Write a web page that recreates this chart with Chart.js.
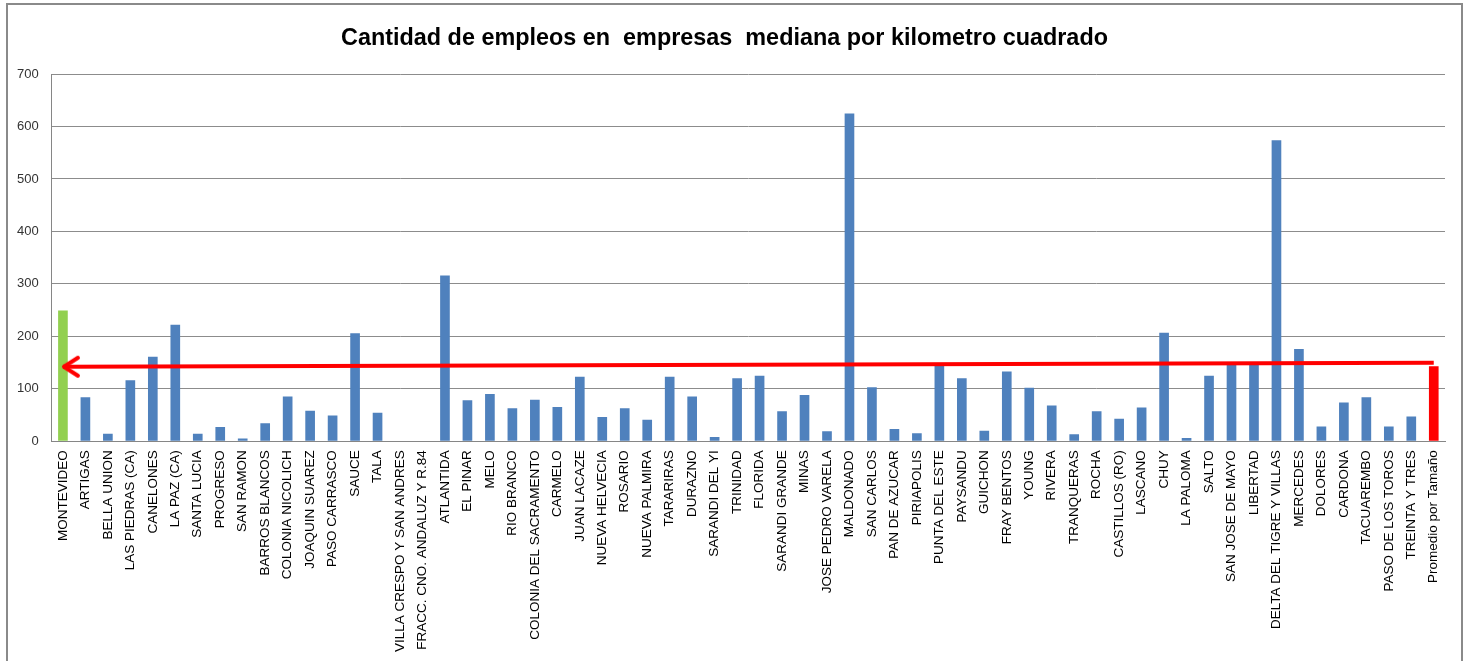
<!DOCTYPE html>
<html>
<head>
<meta charset="utf-8">
<script src="https://cdn.jsdelivr.net/npm/chart.js"></script>
<style>
  body { margin: 0; background: #fff; overflow: hidden; }
  #wrap { position: absolute; left: 0; top: 0; width: 1467px; height: 661px; }
  #marco { position: absolute; left: 6px; top: 3px; width: 1453px; height: 700px;
           border: 2px solid #8a8a8a; border-bottom: none; pointer-events: none; }
</style>
</head>
<body>
<div id="wrap"><canvas id="grafico"></canvas></div>
<div id="marco"></div>
<script>
// ====================
// Datos
// ====================
const ciudades = [
    "MONTEVIDEO", "ARTIGAS", "BELLA UNION", "LAS PIEDRAS (CA)", "CANELONES", "LA PAZ (CA)",
    "SANTA LUCIA", "PROGRESO", "SAN RAMON", "BARROS BLANCOS", "COLONIA NICOLICH",
    "JOAQUIN SUAREZ", "PASO CARRASCO", "SAUCE", "TALA", "VILLA CRESPO Y SAN ANDRES",
    "FRACC. CNO. ANDALUZ Y R.84", "ATLANTIDA", "EL PINAR", "MELO", "RIO BRANCO",
    "COLONIA DEL SACRAMENTO", "CARMELO", "JUAN LACAZE", "NUEVA HELVECIA", "ROSARIO",
    "NUEVA PALMIRA", "TARARIRAS", "DURAZNO", "SARANDI DEL YI", "TRINIDAD", "FLORIDA",
    "SARANDI GRANDE", "MINAS", "JOSE PEDRO VARELA", "MALDONADO", "SAN CARLOS",
    "PAN DE AZUCAR", "PIRIAPOLIS", "PUNTA DEL ESTE", "PAYSANDU", "GUICHON", "FRAY BENTOS",
    "YOUNG", "RIVERA", "TRANQUERAS", "ROCHA", "CASTILLOS (RO)", "LASCANO", "CHUY",
    "LA PALOMA", "SALTO", "SAN JOSE DE MAYO", "LIBERTAD", "DELTA DEL TIGRE Y VILLAS",
    "MERCEDES", "DOLORES", "CARDONA", "TACUAREMBO", "PASO DE LOS TOROS", "TREINTA Y TRES",
    "Promedio por Tamaño"
];

const empleosKm2 = [
    249, 84, 14, 116, 161, 222,
    14, 27, 5, 34, 85,
    58, 49, 206, 54, 0,
    0, 316, 78, 90, 63,
    79, 65, 123, 46, 63,
    41, 123, 85, 8, 120, 125,
    57, 88, 19, 625, 103,
    23, 15, 146, 120, 20, 133,
    102, 68, 13, 57, 43, 64, 207,
    6, 125, 148, 148, 574,
    176, 28, 74, 84, 28, 47,
    143
];

// flecha roja: valor en Montevideo y en el promedio
const flechaValores = [142, 149.5];

const ticksY = [0, 100, 200, 300, 400, 500, 600, 700];

// ====================
// Colores
// ====================
const AZUL = "#4F81BD";
const VERDE = "#92D050";
const ROJO = "#FF0000";

// punta de flecha abierta "<"
const punta = document.createElement("canvas");
punta.width = 40;
punta.height = 26;
(function () {
    const c = punta.getContext("2d");
    c.strokeStyle = ROJO;
    c.lineWidth = 4;
    c.lineCap = "round";
    c.lineJoin = "round";
    c.beginPath();
    c.moveTo(35, 4);
    c.lineTo(21, 13);
    c.lineTo(35, 22);
    c.stroke();
})();

// ====================
// Gráfico
// ====================
const ctx = document.getElementById("grafico");
new Chart(ctx, {
    type: "bar",
    data: {
        labels: ciudades,
        datasets: [
            {
                type: "line",
                label: "Promedio",
                data: [
                    { x: ciudades[0], y: flechaValores[0] },
                    { x: ciudades[ciudades.length - 1], y: flechaValores[1] }
                ],
                borderColor: ROJO,
                borderWidth: 4,
                pointStyle: (c) => c.dataIndex === 0 ? punta : false,
                pointRadius: (c) => c.dataIndex === 0 ? 10 : 0,
                tension: 0,
                order: 0
            },
            {
                label: "Empleos por km²",
                data: empleosKm2,
                backgroundColor: (c) => c.dataIndex === 0 ? VERDE
                    : (c.dataIndex === ciudades.length - 1 ? ROJO : AZUL),
                borderWidth: 0,
                categoryPercentage: 1,
                barPercentage: 0.43,
                order: 1
            }
        ]
    },
    options: {
        responsive: true,
        maintainAspectRatio: false,
        animation: false,
        events: [],
        layout: { padding: { left: 4, right: 22, top: 0, bottom: 0 } },
        plugins: {
            legend: { display: false },
            tooltip: { enabled: false },
            title: {
                display: true,
                text: "Cantidad de empleos en  empresas  mediana por kilometro cuadrado",
                color: "#000",
                font: { family: "Liberation Sans", size: 23.4, weight: "bold" },
                padding: { top: 25, bottom: 21 }
            }
        },
        scales: {
            x: {
                grid: { display: false, drawTicks: false },
                border: { color: "#868686", width: 1 },
                ticks: {
                    autoSkip: false,
                    maxRotation: 90,
                    minRotation: 90,
                    padding: 9,
                    color: "#000",
                    font: { family: "Liberation Sans", size: 13.5 }
                }
            },
            y: {
                min: 0,
                max: 700,
                afterBuildTicks: (axis) => { axis.ticks = ticksY.map(v => ({ value: v })); },
                grid: { color: "#8c8c8c", lineWidth: 1, drawTicks: false },
                border: { color: "#868686", width: 1 },
                ticks: {
                    padding: 13,
                    color: "#333",
                    font: { family: "Liberation Sans", size: 13 }
                }
            }
        }
    }
});
</script>
</body>
</html>
